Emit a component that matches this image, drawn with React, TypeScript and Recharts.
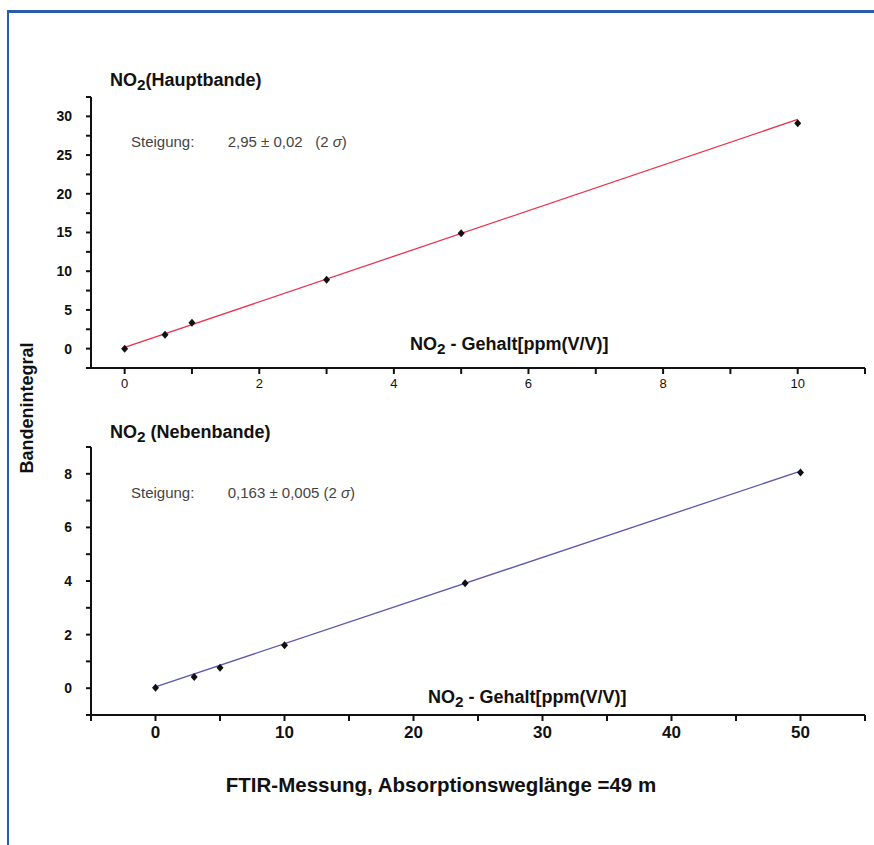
import { ComposedChart, Scatter, XAxis, YAxis } from "recharts";

// Hauptbande (top panel)
const mainConc = [0, 0.6, 1, 3, 5, 10];
const mainBand = [0, 1.8, 3.35, 8.9, 14.9, 29.1];
const mainFitX = [0, 10];
const mainFitY = [0.15, 29.6];
const mainXTicks = [0, 1, 2, 3, 4, 5, 6, 7, 8, 9, 10, 11];
const mainXLabels = [0, 2, 4, 6, 8, 10];
const mainYTicks = [-2.5, 0, 2.5, 5, 7.5, 10, 12.5, 15, 17.5, 20, 22.5, 25, 27.5, 30, 32.5];
const mainYLabels = [0, 5, 10, 15, 20, 25, 30];

// Nebenbande (bottom panel)
const sideConc = [0, 3, 5, 10, 24, 50];
const sideBand = [0.02, 0.42, 0.76, 1.6, 3.92, 8.05];
const sideFitX = [0, 50];
const sideFitY = [0.05, 8.1];
const sideXTicks = [-5, 0, 5, 10, 15, 20, 25, 30, 35, 40, 45, 50, 55];
const sideXLabels = [0, 10, 20, 30, 40, 50];
const sideYTicks = [-1, 0, 1, 2, 3, 4, 5, 6, 7, 8, 9];
const sideYLabels = [0, 2, 4, 6, 8];

const FONT = "'Liberation Sans', Arial, sans-serif";

const toPoints = (xs: number[], ys: number[]) => xs.map((x, i) => ({ x, y: ys[i] }));

const Diamond = (props: any) => {
  const { cx, cy } = props;
  if (cx == null || cy == null) return null;
  return <path d={`M${cx},${cy - 4}L${cx + 3.5},${cy}L${cx},${cy + 4}L${cx - 3.5},${cy}Z`} fill="#111" />;
};

const NoShape = () => null;

const labelOnly = (labels: number[]) => (v: number) => (labels.includes(v) ? String(v) : "");

interface PanelProps {
  top: number;
  height: number;
  plotTop: number;
  plotBottom: number;
  points: { x: number; y: number }[];
  fit: { x: number; y: number }[];
  fitColor: string;
  xDomain: [number, number];
  yDomain: [number, number];
  xTicks: number[];
  xLabels: number[];
  yTicks: number[];
  yLabels: number[];
  xTickFont: { fontSize: number; fontWeight: string };
}

const Panel = (p: PanelProps) => (
  <div style={{ position: "absolute", left: 0, top: p.top }}>
    <ComposedChart
      width={874}
      height={p.height}
      margin={{ top: p.plotTop, right: 9, left: 51, bottom: p.height - p.plotBottom - 30 }}
    >
      <XAxis
        type="number"
        dataKey="x"
        domain={p.xDomain}
        ticks={p.xTicks}
        interval={0}
        allowDataOverflow
        tickFormatter={labelOnly(p.xLabels)}
        stroke="#111"
        strokeWidth={2}
        tickSize={6}
        tickMargin={5}
        height={30}
        tick={{ fill: "#111", fontFamily: FONT, ...p.xTickFont }}
      />
      <XAxis xAxisId="frame" orientation="top" type="number" domain={p.xDomain} tick={false} tickLine={false} stroke="#777" strokeWidth={2} height={0} />
      <YAxis
        type="number"
        dataKey="y"
        domain={p.yDomain}
        ticks={p.yTicks}
        interval={0}
        allowDataOverflow
        tickFormatter={labelOnly(p.yLabels)}
        stroke="#111"
        strokeWidth={2}
        tickSize={5}
        tickMargin={14}
        width={40}
        tick={{ fill: "#111", fontFamily: FONT, fontSize: 14, fontWeight: "bold" }}
      />
      <YAxis yAxisId="frame" orientation="right" type="number" domain={p.yDomain} tick={false} tickLine={false} stroke="#111" strokeWidth={1.5} width={0} />
      <Scatter data={p.fit} line={{ stroke: p.fitColor, strokeWidth: 1.3 }} shape={NoShape} isAnimationActive={false} />
      <Scatter data={p.points} shape={Diamond} isAnimationActive={false} />
    </ComposedChart>
  </div>
);

const Sub = ({ children }: { children: string }) => (
  <span style={{ fontSize: "0.85em", position: "relative", top: 4 }}>{children}</span>
);

const abs = (left: number, top: number, extra: React.CSSProperties = {}): React.CSSProperties => ({
  position: "absolute",
  left,
  top,
  fontFamily: FONT,
  whiteSpace: "pre",
  lineHeight: 1,
  ...extra,
});

export default function App() {
  return (
    <div style={{ position: "absolute", left: 0, top: 0, width: 874, height: 845, background: "#fff", overflow: "hidden" }}>
      <div style={{ position: "absolute", left: 7, top: 10, width: 880, height: 850, borderTop: "3px solid #2b5ca8", borderLeft: "2px solid #2b5ca8" }} />

      <Panel
        top={0}
        height={400}
        plotTop={97}
        plotBottom={368}
        points={toPoints(mainConc, mainBand)}
        fit={toPoints(mainFitX, mainFitY)}
        fitColor="#e8334f"
        xDomain={[-0.5, 11]}
        yDomain={[-2.5, 32.5]}
        xTicks={mainXTicks}
        xLabels={mainXLabels}
        yTicks={mainYTicks}
        yLabels={mainYLabels}
        xTickFont={{ fontSize: 13, fontWeight: "normal" }}
      />
      <Panel
        top={400}
        height={360}
        plotTop={47}
        plotBottom={315}
        points={toPoints(sideConc, sideBand)}
        fit={toPoints(sideFitX, sideFitY)}
        fitColor="#5b57ad"
        xDomain={[-5, 55]}
        yDomain={[-1, 9]}
        xTicks={sideXTicks}
        xLabels={sideXLabels}
        yTicks={sideYTicks}
        yLabels={sideYLabels}
        xTickFont={{ fontSize: 17, fontWeight: "bold" }}
      />

      <div style={abs(110, 71, { fontSize: 18, fontWeight: "bold", color: "#111" })}>
        NO<Sub>2</Sub>(Hauptbande)
      </div>
      <div style={abs(131, 134, { fontSize: 15, color: "#444" })}>{"Steigung:        2,95 ± 0,02   (2 "}<i>σ</i>)</div>
      <div style={abs(410, 335, { fontSize: 18, fontWeight: "bold", color: "#111" })}>
        NO<Sub>2</Sub> - Gehalt[ppm(V/V)]
      </div>

      <div style={abs(110, 423, { fontSize: 18, fontWeight: "bold", color: "#111" })}>
        NO<Sub>2</Sub> (Nebenbande)
      </div>
      <div style={abs(131, 485, { fontSize: 15, color: "#444" })}>{"Steigung:        0,163 ± 0,005 (2 "}<i>σ</i>)</div>
      <div style={abs(428, 688, { fontSize: 18, fontWeight: "bold", color: "#111" })}>
        NO<Sub>2</Sub> - Gehalt[ppm(V/V)]
      </div>

      <div
        style={abs(27, 408, {
          fontSize: 18,
          fontWeight: "bold",
          color: "#111",
          transform: "translate(-50%, -50%) rotate(-90deg)",
        })}
      >
        Bandenintegral
      </div>
      <div style={abs(441, 785, { fontSize: 20.5, fontWeight: "bold", color: "#111", transform: "translate(-50%, -50%)" })}>
        FTIR-Messung, Absorptionsweglänge =49 m
      </div>
    </div>
  );
}
